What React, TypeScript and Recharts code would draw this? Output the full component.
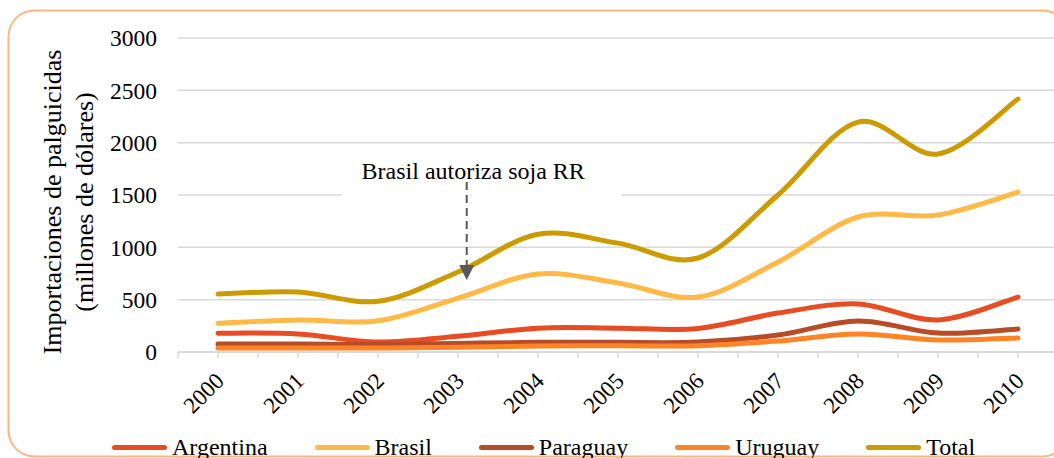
import React from "react";
import {
  LineChart,
  Line,
  XAxis,
  YAxis,
  CartesianGrid,
  ReferenceArea,
  ReferenceLine,
  ReferenceDot,
} from "recharts";

const years = ["2000", "2001", "2002", "2003", "2004", "2005", "2006", "2007", "2008", "2009", "2010"];
const argentina = [180, 172, 95, 150, 228, 228, 225, 372, 459, 306, 525];
const brasil = [275, 306, 298, 515, 745, 660, 525, 860, 1290, 1309, 1528];
const paraguay = [76, 76, 72, 82, 92, 92, 95, 162, 296, 181, 220];
const uruguay = [38, 38, 38, 45, 58, 60, 60, 105, 172, 115, 134];
const total = [554, 573, 485, 764, 1125, 1040, 898, 1500, 2197, 1892, 2417];
const yTicks = [0, 500, 1000, 1500, 2000, 2500, 3000];
const annotationText = "Brasil autoriza soja RR";
const yTitle1 = "Importaciones de palguicidas";
const yTitle2 = "(millones de dólares)";

const series = [
  { key: "Argentina", values: argentina, color: "#E84C22" },
  { key: "Brasil", values: brasil, color: "#FFB946" },
  { key: "Paraguay", values: paraguay, color: "#B84C27" },
  { key: "Uruguay", values: uruguay, color: "#FF8426" },
  { key: "Total", values: total, color: "#CC9B00" },
];

const data = years.map((y, i) => {
  const row: any = { idx: i, year: y };
  series.forEach((s) => (row[s.key] = s.values[i]));
  return row;
});

const xTicks: number[] = [];
for (let v = -0.5; v <= years.length - 0.5 + 1e-9; v += 0.5) xTicks.push(v);

const FONT = '"Liberation Serif", "Times New Roman", serif';

// Excel-like smoothing (Catmull-Rom as cubic Bezier)
const excelCurve = (context: any) => {
  let pts: number[][] = [];
  return {
    areaStart() {},
    areaEnd() {},
    lineStart() {
      pts = [];
    },
    point(x: number, y: number) {
      pts.push([+x, +y]);
    },
    lineEnd() {
      const n = pts.length;
      if (!n) return;
      context.moveTo(pts[0][0], pts[0][1]);
      for (let i = 0; i < n - 1; i++) {
        const p0 = pts[i - 1] || pts[i];
        const p1 = pts[i];
        const p2 = pts[i + 1];
        const p3 = pts[i + 2] || pts[i + 1];
        context.bezierCurveTo(
          p1[0] + (p2[0] - p0[0]) / 6,
          p1[1] + (p2[1] - p0[1]) / 6,
          p2[0] - (p3[0] - p1[0]) / 6,
          p2[1] - (p3[1] - p1[1]) / 6,
          p2[0],
          p2[1]
        );
      }
    },
  };
};

const XTick = (props: any) => {
  const { x, y, payload } = props;
  const v = payload.value;
  if (Math.abs(v - Math.round(v)) > 1e-6) return null;
  const ax = x + 2;
  const ay = y + 17;
  return (
    <text
      x={ax}
      y={ay}
      transform={`rotate(-45, ${ax}, ${ay})`}
      textAnchor="end"
      dominantBaseline="central"
      fontFamily={FONT}
      fontSize={23}
      fill="#000"
    >
      {years[Math.round(v)]}
    </text>
  );
};

const Triangle = (props: any) => {
  const { cx, cy } = props;
  if (cx == null || cy == null) return null;
  return (
    <polygon
      points={`${cx - 7.5},${cy - 7.5} ${cx + 7.5},${cy - 7.5} ${cx},${cy + 7.5}`}
      fill="#595959"
    />
  );
};

export default function App() {
  return (
    <div
      style={{
        position: "absolute",
        left: 0,
        top: 0,
        width: 1054,
        height: 458,
        overflow: "hidden",
        background: "#fff",
      }}
    >
      <svg
        width={1054}
        height={458}
        style={{ position: "absolute", left: 0, top: 0 }}
      >
        <rect
          x={8.5}
          y={10.5}
          width={1060}
          height={446}
          rx={26}
          ry={26}
          fill="#fff"
          stroke="#FFB583"
          strokeWidth={2}
        />
        <text
          x={61}
          y={202}
          transform="rotate(-90, 61, 202)"
          textAnchor="middle"
          fontFamily={FONT}
          fontSize={26}
          fill="#000"
        >
          {yTitle1}
        </text>
        <text
          x={93}
          y={202}
          transform="rotate(-90, 93, 202)"
          textAnchor="middle"
          fontFamily={FONT}
          fontSize={26}
          fill="#000"
        >
          {yTitle2}
        </text>
      </svg>
      <div style={{ position: "absolute", left: 0, top: 0 }}>
        <LineChart
          width={1062}
          height={458}
          data={data}
          margin={{ top: 38, right: 4, left: 118, bottom: 46 }}
        >
          <CartesianGrid vertical={false} stroke="#D9D9D9" strokeWidth={1.5} />
          <XAxis
            type="number"
            dataKey="idx"
            domain={[-0.5, years.length - 0.5]}
            ticks={xTicks}
            interval={0}
            height={60}
            axisLine={{ stroke: "#D9D9D9", strokeWidth: 1.5 }}
            tickLine={{ stroke: "#D9D9D9", strokeWidth: 1.5 }}
            tickSize={6}
            tick={<XTick />}
            allowDataOverflow
          />
          <YAxis
            type="number"
            domain={[0, 3000]}
            ticks={yTicks}
            width={60}
            axisLine={false}
            tickLine={false}
            tickSize={6}
            tickMargin={15}
            tick={{ fontFamily: FONT, fontSize: 23.5, fill: "#000" }}
          />
          <ReferenceArea
            x1={1.55}
            x2={5.04}
            y1={1450}
            y2={1910}
            fill="#fff"
            fillOpacity={1}
            stroke="none"
          />
          {series.map((s) => (
            <Line
              key={s.key}
              dataKey={s.key}
              stroke={s.color}
              strokeWidth={5}
              strokeLinecap="round"
              type={excelCurve as any}
              dot={false}
              activeDot={false}
              isAnimationActive={false}
            />
          ))}
          <ReferenceDot
            x={3.19}
            y={1739}
            r={0}
            fill="none"
            stroke="none"
            label={{
              value: annotationText,
              position: "center",
              fontFamily: FONT,
              fontSize: 24,
              fill: "#000",
            }}
          />
          <ReferenceLine
            segment={[
              { x: 3.109, y: 1625 },
              { x: 3.109, y: 831 },
            ]}
            stroke="#595959"
            strokeWidth={2}
            strokeDasharray="8 5"
          />
          <ReferenceDot x={3.109} y={760} r={8} shape={<Triangle />} />
        </LineChart>
      </div>
      <div
        style={{
          position: "absolute",
          left: 112,
          top: 432,
          height: 30,
          display: "flex",
          alignItems: "center",
          fontFamily: FONT,
          fontSize: 24,
          color: "#000",
          whiteSpace: "nowrap",
        }}
      >
        {series.map((s, i) => (
          <div
            key={s.key}
            style={{
              display: "flex",
              alignItems: "center",
              marginLeft: i === 0 ? 0 : 47,
            }}
          >
            <div
              style={{
                width: 55,
                height: 5,
                borderRadius: 3,
                background: s.color,
              }}
            />
            <span style={{ marginLeft: 5 }}>{s.key}</span>
          </div>
        ))}
      </div>
    </div>
  );
}
